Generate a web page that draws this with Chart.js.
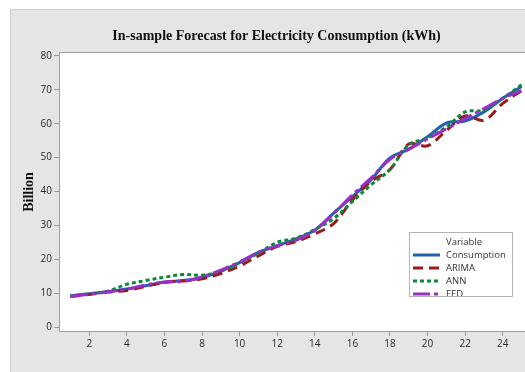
<!DOCTYPE html>
<html>
<head>
<meta charset="utf-8">
<script src="https://cdn.jsdelivr.net/npm/chart.js@4/dist/chart.umd.min.js"></script>
<style>
  html, body { margin: 0; padding: 0; overflow: hidden; background: #fff; }
  #wrap { width: 553px; height: 372px; }
</style>
</head>
<body>
<div id="wrap"><canvas id="chart" width="553" height="372"></canvas></div>
<script>
// Observation index (year number)
const periods = [1, 2, 3, 4, 5, 6, 7, 8, 9, 10, 11, 12, 13, 14, 15, 16, 17, 18, 19, 20, 21, 22, 23, 24, 25];

// Billion kWh
const consumption = [9.2, 9.8, 10.5, 11.2, 12.2, 13.2, 13.7, 14.5, 16.5, 19.0, 22.0, 24.0, 26.0, 28.6, 33.6, 38.5, 43.5, 49.9, 52.5, 56.2, 60.2, 60.8, 63.5, 67.5, 71.0];
const arima = [9.0, 9.6, 10.3, 10.8, 12.0, 13.2, 13.6, 14.2, 15.8, 18.0, 21.0, 23.8, 25.2, 27.5, 30.5, 37.5, 43.0, 46.5, 54.0, 53.5, 58.0, 62.3, 61.0, 66.0, 69.8];
const ann = [9.2, 9.8, 10.6, 12.6, 13.7, 14.7, 15.5, 15.3, 16.5, 19.0, 21.8, 25.0, 26.2, 28.8, 32.0, 37.0, 42.0, 46.5, 53.8, 55.8, 59.0, 63.5, 64.0, 67.5, 71.5];
const fed = [9.0, 9.7, 10.4, 11.2, 12.4, 13.3, 13.5, 14.8, 16.8, 19.2, 22.0, 24.0, 25.6, 28.5, 33.5, 39.0, 44.0, 49.5, 52.5, 55.5, 58.5, 61.5, 64.5, 67.5, 69.8];

const xTicks = [2, 4, 6, 8, 10, 12, 14, 16, 18, 20, 22, 24];
const yTicks = [0, 10, 20, 30, 40, 50, 60, 70, 80];

const seriesNames = ["Consumption", "ARIMA", "ANN", "FED"];
const colors = ["#1f62b0", "#9b1c1c", "#0b8a3c", "#9a2fc8"];
const dashes = [[], [10, 6], [4, 3], [17, 4, 4, 4]];

const toPts = vals => vals.map((v, i) => ({ x: periods[i], y: v }));

// gray panel, white plot area, title, y label, legend
const frame = {
  id: "frame",
  beforeDraw(chart) {
    const c = chart.ctx, a = chart.chartArea;
    c.save();
    c.fillStyle = "#ffffff";
    c.fillRect(0, 0, chart.width, chart.height);
    c.fillStyle = "#e5e5e5";
    c.fillRect(10, 9, chart.width - 20, chart.height);
    c.strokeStyle = "#cfcfcf";
    c.lineWidth = 1;
    c.strokeRect(10.5, 9.5, chart.width - 21, chart.height);
    c.fillStyle = "#ffffff";
    c.fillRect(a.left, a.top, a.right - a.left, a.bottom - a.top);
    c.strokeStyle = "#a0a0a0";
    c.strokeRect(a.left + 0.5, a.top + 0.5, a.right - a.left - 1, a.bottom - a.top);

    c.fillStyle = "#111";
    c.font = "bold 14px 'Liberation Serif'";
    c.textAlign = "center";
    c.textBaseline = "middle";
    c.fillText("In-sample Forecast for Electricity Consumption (kWh)", 276.5, 36);

    c.translate(29, 192);
    c.rotate(-Math.PI / 2);
    c.font = "bold 14px 'Liberation Serif'";
    c.fillText("Billion", 0, 0);
    c.restore();
  },
  afterDatasetsDraw(chart) {
    const c = chart.ctx;
    const bx = 409, by = 232, bw = 104, bh = 65;
    c.save();
    c.fillStyle = "#ffffff";
    c.fillRect(bx, by, bw, bh);
    c.beginPath();
    c.rect(bx, by, bw, bh);
    c.clip();
    c.font = "9.5px 'Open Sans'";
    c.fillStyle = "#333";
    c.textAlign = "left";
    c.textBaseline = "middle";
    c.fillText("Variable", 446, 242.5);
    seriesNames.forEach((name, i) => {
      const y = 255 + i * 13;
      c.strokeStyle = colors[i];
      c.lineWidth = 3;
      c.setLineDash(dashes[i]);
      c.beginPath();
      c.moveTo(413, y);
      c.lineTo(440, y);
      c.stroke();
      c.setLineDash([]);
      c.fillText(name, 446, y);
    });
    c.restore();
    c.save();
    c.strokeStyle = "#b4b4b4";
    c.lineWidth = 1;
    c.strokeRect(bx + 0.5, by + 0.5, bw - 1, bh - 1);
    c.restore();
  }
};

const series = [consumption, arima, ann, fed];

new Chart(document.getElementById("chart"), {
  type: "line",
  data: {
    datasets: series.map((vals, i) => ({
      label: seriesNames[i],
      data: toPts(vals),
      borderColor: colors[i],
      borderDash: dashes[i],
      borderWidth: 3,
      pointRadius: 0,
      tension: 0.35,
      fill: false,
      order: 3 - i
    }))
  },
  options: {
    responsive: false,
    animation: false,
    layout: { padding: { left: 0, top: 52, right: 20, bottom: 0 } },
    plugins: { legend: { display: false }, tooltip: { enabled: false } },
    scales: {
      x: {
        type: "linear",
        min: 0.39,
        max: 25.61,
        afterBuildTicks: s => { s.ticks = xTicks.map(v => ({ value: v })); },
        afterFit: s => { s.height = 41; },
        grid: { drawOnChartArea: false, drawTicks: true, tickLength: 5, color: "#999" },
        border: { display: false },
        ticks: { color: "#2a2a2a", padding: 2, maxRotation: 0, font: { size: 10, family: "Open Sans" } }
      },
      y: {
        min: -1.18,
        max: 81.18,
        afterBuildTicks: s => { s.ticks = yTicks.map(v => ({ value: v })); },
        afterFit: s => { s.width = 59; },
        grid: { drawOnChartArea: false, drawTicks: true, tickLength: 5, color: "#999" },
        border: { display: false },
        ticks: { color: "#2a2a2a", padding: 2, font: { size: 10, family: "Open Sans" } }
      }
    }
  },
  plugins: [frame]
});
</script>
</body>
</html>
